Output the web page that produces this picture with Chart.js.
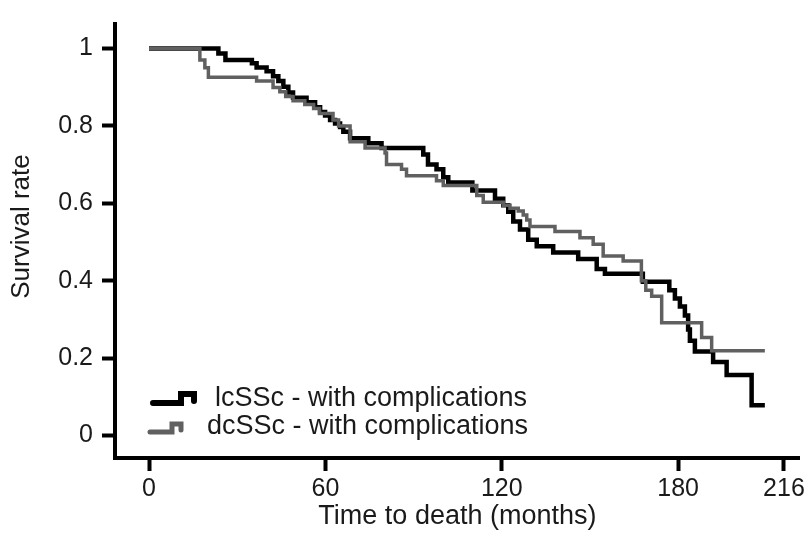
<!DOCTYPE html>
<html>
<head>
<meta charset="utf-8">
<script src="https://cdn.jsdelivr.net/npm/chart.js@4/dist/chart.umd.min.js"></script>
<style>
  html, body { margin: 0; padding: 0; background: #fff; }
  #wrap { width: 808px; height: 534px; }
</style>
</head>
<body>
<div id="wrap"><canvas id="myChart" width="808" height="534"></canvas></div>
<script>
// survival data (months, survival rate)
const lcTimes = [0, 23.6, 26, 35, 36.6, 40, 42.2, 44, 45.7, 47.4, 49, 53.6, 56.5, 58.2, 59.9, 61.6, 63.3, 65, 66.1, 68.4,
  74.6, 79.1, 93.3, 94.9, 97.8, 100.1, 101.8, 110, 117.7, 120.5, 122.2, 123.9, 126.2, 129, 131.9, 137.5, 146, 152.3, 155.1, 168,
  177, 178.9, 180.6, 182.3, 183.4, 184, 185.7, 191.9, 196.5, 205, 209.5];
const lcSurv = [1, 0.987, 0.970, 0.962, 0.951, 0.941, 0.928, 0.916, 0.901, 0.886, 0.873, 0.861, 0.848, 0.836, 0.827, 0.815, 0.806, 0.797, 0.785, 0.768,
  0.755, 0.743, 0.726, 0.700, 0.688, 0.667, 0.654, 0.633, 0.612, 0.595, 0.578, 0.553, 0.532, 0.506, 0.489, 0.473, 0.456, 0.430, 0.418, 0.397,
  0.375, 0.354, 0.333, 0.31, 0.274, 0.245, 0.217, 0.19, 0.156, 0.078, 0.078];

const dcTimes = [0, 17.3, 19, 20.2, 36.6, 42.2, 44.5, 46.5, 49, 53, 56, 58, 62.6, 64.5, 68.4, 73.5, 80.3, 80.8, 85.9, 87.6,
  97.8, 100.1, 111.5, 113.7, 120.5, 122.8, 125.6, 127.3, 128.5, 129.6, 138.1, 146.6, 151.1, 154.5, 161.3, 167.5, 169, 171, 174.4, 188,
  191.4, 209.5];
const dcSurv = [1, 0.97, 0.95, 0.926, 0.916, 0.899, 0.888, 0.876, 0.865, 0.855, 0.845, 0.832, 0.815, 0.80, 0.759, 0.743, 0.730, 0.700, 0.688, 0.671,
  0.658, 0.646, 0.62, 0.603, 0.595, 0.587, 0.580, 0.570, 0.557, 0.540, 0.527, 0.511, 0.494, 0.464, 0.451, 0.40, 0.375, 0.36, 0.291, 0.253,
  0.219, 0.219];

const seriesNames = ['lcSSc - with complications', 'dcSSc - with complications'];
const xTicks = [0, 60, 120, 180, 216];
const yTicks = [0, 0.2, 0.4, 0.6, 0.8, 1];
const yTickLabels = ['0', '0.2', '0.4', '0.6', '0.8', '1'];

const FONT = "'Liberation Sans', Arial, sans-serif";
const TEXT = '#1a1a1a';

// turn two arrays into {x, y} points
function toPoints(times, surv) {
  return times.map((t, i) => ({ x: t, y: surv[i] }));
}

// little step icons + labels drawn inside the plot, like the Prism legend
const stepLegend = {
  id: 'stepLegend',
  afterDraw(chart) {
    const ctx = chart.ctx;
    const area = chart.chartArea;
    const rows = [
      { ds: 0, icon: [[38, 379], [66, 379], [66, 370], [79, 370], [79, 377]], textX: 100, textY: 375 },
      { ds: 1, icon: [[35, 408], [57, 408], [57, 400], [66, 400], [66, 406]], textX: 92, textY: 403 }
    ];
    ctx.save();
    rows.forEach(r => {
      const ds = chart.data.datasets[r.ds];
      ctx.beginPath();
      r.icon.forEach((p, i) => {
        const x = area.left + p[0];
        const y = area.top + p[1];
        if (i === 0) ctx.moveTo(x, y); else ctx.lineTo(x, y);
      });
      ctx.strokeStyle = ds.borderColor;
      ctx.lineWidth = ds.borderWidth + 1.5;
      ctx.lineCap = 'round';
      ctx.lineJoin = 'miter';
      ctx.stroke();
      ctx.fillStyle = TEXT;
      ctx.font = '27px ' + FONT;
      ctx.textBaseline = 'middle';
      ctx.textAlign = 'left';
      ctx.fillText(ds.label, area.left + r.textX, area.top + r.textY);
    });
    ctx.restore();
  }
};

const chartData = {
  datasets: [
    {
      label: seriesNames[0],
      data: toPoints(lcTimes, lcSurv),
      borderColor: '#000000',
      borderWidth: 4.5,
      stepped: 'before',
      pointRadius: 0,
      fill: false,
      order: 2
    },
    {
      label: seriesNames[1],
      data: toPoints(dcTimes, dcSurv),
      borderColor: '#606060',
      borderWidth: 3.5,
      stepped: 'before',
      pointRadius: 0,
      fill: false,
      order: 1
    }
  ]
};

const config = {
  type: 'line',
  data: chartData,
  options: {
    responsive: false,
    animation: false,
    layout: { padding: { top: 15, right: 8, left: 0, bottom: 0 } },
    plugins: {
      legend: { display: false },
      tooltip: { enabled: false }
    },
    scales: {
      x: {
        type: 'linear',
        min: -11.57,
        max: 221.4,
        afterBuildTicks: scale => { scale.ticks = xTicks.map(v => ({ value: v })); },
        afterFit: scale => { scale.height = 76; },
        border: { display: true, color: '#000', width: 4 },
        grid: { display: true, drawOnChartArea: false, drawTicks: true, tickLength: 13, tickWidth: 4, color: '#000' },
        ticks: { color: TEXT, font: { family: FONT, size: 25 }, padding: 3, maxRotation: 0, autoSkip: false },
        title: {
          display: true,
          text: 'Time to death (months)',
          color: TEXT,
          font: { family: FONT, size: 27, lineHeight: 1 },
          padding: { top: 0, bottom: 4 }
        }
      },
      y: {
        type: 'linear',
        min: -0.0582,
        max: 1.0633,
        afterBuildTicks: scale => { scale.ticks = yTicks.map(v => ({ value: v })); },
        afterFit: scale => { scale.width = 115; },
        border: { display: true, color: '#000', width: 4 },
        grid: { display: true, drawOnChartArea: false, drawTicks: true, tickLength: 13, tickWidth: 4, color: '#000' },
        ticks: {
          color: TEXT,
          font: { family: FONT, size: 25 },
          padding: 9,
          callback: value => {
            const i = yTicks.findIndex(t => Math.abs(t - value) < 1e-6);
            return i >= 0 ? yTickLabels[i] : '';
          }
        },
        title: {
          display: true,
          // leading spaces nudge the rotated title up a little, as in the original
          text: '    Survival rate',
          color: TEXT,
          font: { family: FONT, size: 26, lineHeight: 1 },
          padding: { top: 9, bottom: 0 }
        }
      }
    }
  },
  plugins: [stepLegend]
};

let myChart = new Chart(document.getElementById('myChart'), config);
</script>
</body>
</html>
